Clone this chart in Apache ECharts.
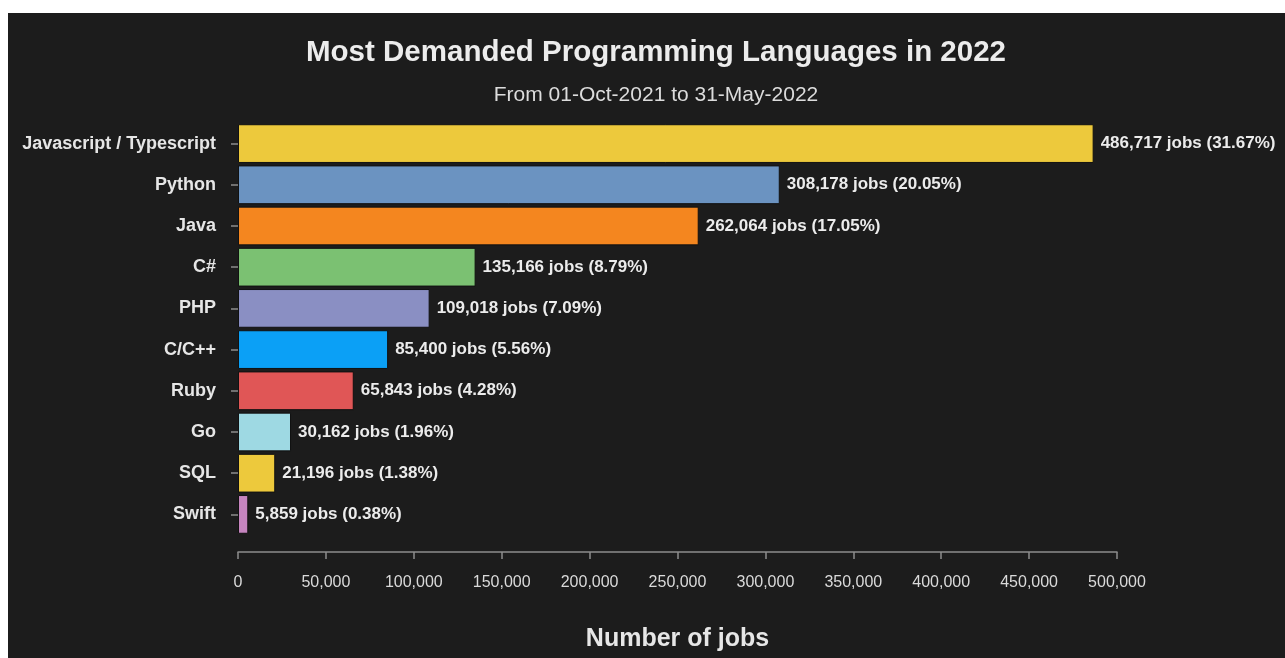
<!DOCTYPE html>
<html>
<head>
<meta charset="utf-8">
<script src="https://cdn.jsdelivr.net/npm/echarts@6/dist/echarts.min.js"></script>
<style>
  html, body { margin: 0; padding: 0; background: #ffffff; }
  #panel { position: absolute; left: 8px; top: 13px; width: 1277px; height: 645px; background: #1c1c1c; }
  #bar-chart { width: 1277px; height: 645px; }
</style>
</head>
<body>
<div id="panel"><div id="bar-chart"></div></div>
<script>
// languages, top to bottom
const languages = [
  "Javascript / Typescript", "Python", "Java", "C#", "PHP",
  "C/C++", "Ruby", "Go", "SQL", "Swift"
];
const jobs = [486717, 308178, 262064, 135166, 109018, 85400, 65843, 30162, 21196, 5859];
const shares = ["31.67", "20.05", "17.05", "8.79", "7.09", "5.56", "4.28", "1.96", "1.38", "0.38"];
const barColors = [
  "#edc93c", "#6b93c1", "#f4861f", "#7bc172", "#8a8fc3",
  "#0ba0f6", "#e05656", "#9ed9e3", "#edc93c", "#c685bf"
];
const xTicks = { min: 0, max: 500000, interval: 50000 };

const myChart = echarts.init(document.getElementById("bar-chart"));

const fmt = (v) => Number(v).toLocaleString("en-US");

const option = {
  backgroundColor: "#1c1c1c",
  textStyle: { fontFamily: "Liberation Sans, Arial, sans-serif" },
  title: [
    {
      text: "Most Demanded Programming Languages in 2022",
      left: 643,
      top: 20,
      textAlign: "center",
      textStyle: { color: "#ececec", fontSize: 29.5, fontWeight: "bold", fontFamily: "Liberation Sans" },
    },
    {
      text: "From 01-Oct-2021 to 31-May-2022",
      left: 643,
      top: 67,
      textAlign: "center",
      textStyle: { color: "#dcdcdc", fontSize: 21, fontWeight: "normal", fontFamily: "Liberation Sans" },
    },
  ],
  grid: {
    left: 230,
    top: 110,
    width: 879,
    height: 412,
    containLabel: false,
  },
  xAxis: {
    type: "value",
    min: xTicks.min,
    max: xTicks.max,
    interval: xTicks.interval,
    offset: 17,
    name: "Number of jobs",
    nameLocation: "middle",
    nameGap: 75,
    nameTextStyle: { color: "#e6e6e6", fontSize: 25, fontWeight: "bold" },
    axisLine: { show: true, lineStyle: { color: "#8c8c8c", width: 1.5 } },
    axisTick: { show: true, length: 7, lineStyle: { color: "#8c8c8c", width: 1.5 } },
    axisLabel: { color: "#dadada", fontSize: 16, margin: 23, formatter: fmt },
    splitLine: { show: false },
  },
  yAxis: {
    type: "category",
    inverse: true,
    data: languages,
    axisLine: { show: false },
    axisTick: { show: true, alignWithLabel: true, length: 7, lineStyle: { color: "#8c8c8c", width: 1.5 } },
    axisLabel: { color: "#e6e6e6", fontSize: 18, fontWeight: "bold", margin: 22 },
  },
  series: [
    {
      type: "bar",
      data: jobs.map((v, i) => ({
        value: v,
        itemStyle: { color: barColors[i] },
      })),
      barCategoryGap: "6%",
      itemStyle: { borderColor: "#111111", borderWidth: 1 },
      label: {
        show: true,
        position: "right",
        distance: 7,
        color: "#ececec",
        fontSize: 17,
        fontWeight: "bold",
        formatter: (p) => `${fmt(p.value)} jobs (${shares[p.dataIndex]}%)`,
      },
    },
  ],
};

myChart.setOption(option);
</script>
</body>
</html>
